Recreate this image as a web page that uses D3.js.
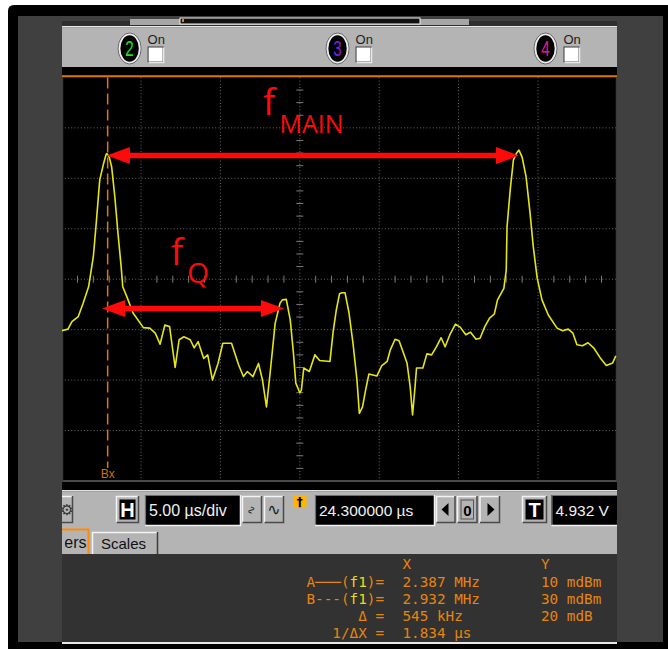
<!DOCTYPE html>
<html>
<head>
<meta charset="utf-8">
<script src="https://cdn.jsdelivr.net/npm/d3@7"></script>
<style>
  body { margin: 0; background: #fff; }
  svg { display: block; }
</style>
</head>
<body>
<svg id="scope" width="668" height="650"></svg>
<script>
// ---------- trace data (graticule divisions: x 0..7 from left, y -4..4 around centre) ----------
const traceX = [0.00,0.08,0.13,0.21,0.27,0.34,0.40,0.44,0.48,0.53,
  0.56,0.57,0.60,0.63,0.67,0.71,0.75,0.77,0.82,0.90,
  1.03,1.11,1.18,1.24,1.30,1.36,1.43,1.48,1.54,1.62,
  1.67,1.72,1.79,1.84,1.90,1.97,2.03,2.14,2.23,2.29,
  2.34,2.41,2.48,2.53,2.58,2.63,2.69,2.75,2.78,2.83,
  2.88,2.92,2.95,3.00,3.02,3.05,3.12,3.19,3.25,3.38,
  3.42,3.46,3.50,3.53,3.57,3.62,3.67,3.72,3.75,3.79,
  3.83,3.87,3.97,4.03,4.10,4.14,4.20,4.25,4.30,4.35,
  4.39,4.42,4.45,4.47,4.55,4.60,4.66,4.72,4.78,4.83,
  4.89,4.96,5.02,5.09,5.15,5.22,5.27,5.33,5.39,5.45,
  5.49,5.57,5.60,5.61,5.65,5.69,5.73,5.76,5.80,5.85,
  5.90,5.94,5.99,6.05,6.13,6.24,6.31,6.38,6.44,6.49,
  6.56,6.63,6.70,6.78,6.86,6.94,6.98];
const traceY = [-1.02,-0.99,-0.84,-0.74,-0.48,-0.15,0.45,1.18,1.97,2.30,
  2.47,2.49,2.42,2.23,1.64,0.91,0.25,-0.15,-0.34,-0.67,
  -0.96,-0.97,-1.07,-1.29,-0.91,-0.94,-1.75,-1.20,-1.14,-1.20,
  -1.36,-1.24,-1.57,-1.50,-2.00,-1.67,-1.27,-1.27,-1.70,-1.93,
  -1.83,-1.93,-1.67,-2.00,-2.53,-1.80,-0.87,-0.48,-0.41,-0.40,
  -0.81,-1.47,-2.06,-2.25,-2.20,-1.76,-1.83,-1.50,-1.61,-1.63,
  -1.04,-0.61,-0.29,-0.27,-0.27,-0.67,-1.27,-2.00,-2.66,-2.53,
  -2.19,-1.88,-1.92,-1.72,-1.63,-1.40,-1.19,-1.22,-1.44,-1.66,
  -2.13,-2.69,-2.16,-1.76,-1.76,-1.48,-1.50,-1.34,-1.16,-1.34,
  -1.10,-0.89,-0.95,-1.10,-1.05,-1.19,-1.17,-0.94,-0.77,-0.69,
  -0.41,-0.18,0.18,1.04,1.77,2.36,2.50,2.56,2.42,2.03,
  1.31,0.65,0.02,-0.41,-0.71,-0.97,-1.02,-0.99,-1.07,-1.30,
  -1.32,-1.26,-1.36,-1.55,-1.71,-1.66,-1.52];

// graticule
const gridX = [1, 2, 3, 4, 5, 6];
const gridY = [-3, -2, -1, 0, 1, 2, 3];

// marker cursor and annotated spans (divisions)
const cursorBx = 0.58;
const spanMain = [0.57, 5.76];
const levelMain = 2.45;
const spanQ = [0.51, 2.80];
const levelQ = -0.58;

// channel buttons
const channels = ["2", "3", "4"];

// control bar texts
const timebase = "5.00 µs/div";
const delay = "24.300000 µs";
const trigLevel = "4.932 V";
const tabNames = ["Markers", "Scales"];

// marker readout
const readoutLabels = ["A───(f1)=", "B---(f1)=", "Δ =", "1/ΔX ="];
const readoutX = ["2.387 MHz", "2.932 MHz", "545 kHz", "1.834 µs"];
const readoutY = ["10 mdBm", "30 mdBm", "20 mdB", ""];

// ---------- styling ----------
const chanColor = { "2": "#19e619", "3": "#8a1be6", "4": "#f0148c" };
const orange = "#e6850e";
const panelGray = "#b4b4b4";
const red = "#ff0a0a";

const svg = d3.select("#scope");
const defs = svg.append("defs");

// scales for the screen area
const x = d3.scaleLinear().domain([0, 7]).range([61.6, 617.4]);
const y = d3.scaleLinear().domain([-4, 4]).range([481, 77.4]);

// ---------- outer bezel ----------
svg.append("path")
  .attr("d", "M8,649 V11 Q8,5 14,5 H668 V649 Z")
  .attr("fill", "#000");
svg.append("rect").attr("x", 18).attr("y", 16).attr("width", 645).attr("height", 626).attr("fill", "#404040");

// clip for the application window
defs.append("clipPath").attr("id", "win")
  .append("rect").attr("x", 62).attr("y", 16).attr("width", 555).attr("height", 630);
defs.append("clipPath").attr("id", "tabclip")
  .append("rect").attr("x", 64.5).attr("y", 528).attr("width", 26).attr("height", 26);
const app = svg.append("g").attr("clip-path", "url(#win)");

// ---------- top strip and channel bar ----------
app.append("rect").attr("x", 62).attr("y", 21).attr("width", 555).attr("height", 5).attr("fill", "#2e2e2e");
app.append("rect").attr("x", 130).attr("y", 19).attr("width", 339).attr("height", 6).attr("fill", "#a6a6a6");
app.append("rect").attr("x", 180).attr("y", 18).attr("width", 240).attr("height", 6)
  .attr("fill", "#111").attr("stroke", "#f2f2f2").attr("stroke-width", 1);
app.append("rect").attr("x", 182).attr("y", 19).attr("width", 2).attr("height", 3).attr("fill", orange);
app.append("rect").attr("x", 62).attr("y", 26).attr("width", 555).attr("height", 1.5).attr("fill", "#e8e8e8");
app.append("rect").attr("x", 62).attr("y", 27.5).attr("width", 555).attr("height", 39.5).attr("fill", panelGray);

const badgeX = d3.scalePoint().domain(channels).range([129.6, 545.5]);
const badge = app.selectAll("g.badge").data(channels).join("g")
  .attr("class", "badge")
  .attr("transform", d => `translate(${badgeX(d)},48.5)`);
badge.append("ellipse").attr("rx", 11.5).attr("ry", 15.5).attr("fill", "none").attr("stroke", "#6a6a6a").attr("stroke-width", 1);
badge.append("ellipse").attr("rx", 10).attr("ry", 14).attr("fill", "#000").attr("stroke", "#eeeeee").attr("stroke-width", 1.6);
badge.append("text")
  .attr("text-anchor", "middle").attr("y", 6.5)
  .attr("transform", "scale(0.8,1.2)")
  .attr("font-family", "Liberation Sans, Arial, sans-serif").attr("font-size", 19)
  .attr("fill", d => chanColor[d]).text(d => d);
badge.append("text")
  .attr("x", 18).attr("y", -5)
  .attr("font-family", "Liberation Sans, Arial, sans-serif").attr("font-size", 13)
  .attr("fill", "#1e1e1e").text("On");
badge.append("rect").attr("x", 18.5).attr("y", -1.5).attr("width", 15).attr("height", 15)
  .attr("fill", "#fff").attr("stroke", "#3c3c3c").attr("stroke-width", 1);
badge.append("path").attr("d", "M19,14 H34 V-1").attr("fill", "none").attr("stroke", "#e8e8e8").attr("stroke-width", 1.5);

// ---------- screen ----------
app.append("rect").attr("x", 62).attr("y", 67).attr("width", 555).attr("height", 424).attr("fill", "#000");

const grid = app.append("g");
grid.selectAll("line.gx").data(gridX).join("line")
  .attr("x1", d => x(d)).attr("x2", d => x(d)).attr("y1", y(4)).attr("y2", y(-4))
  .attr("stroke", "#6a6a6a").attr("stroke-width", 1).attr("stroke-dasharray", "1,2.2");
grid.selectAll("line.gy").data(gridY).join("line")
  .attr("x1", x(0)).attr("x2", x(7)).attr("y1", d => y(d)).attr("y2", d => y(d))
  .attr("stroke", "#6a6a6a").attr("stroke-width", 1).attr("stroke-dasharray", "1,2.2");
// minor ticks on centre axes
grid.selectAll("line.ty").data(d3.range(-4, 4.001, 0.25).filter(v => Math.abs(v % 1) > 1e-6)).join("line")
  .attr("x1", x(3) - 3.5).attr("x2", x(3) + 3.5).attr("y1", d => y(d)).attr("y2", d => y(d))
  .attr("stroke", "#7c7c7c").attr("stroke-width", 1);
grid.selectAll("line.tx").data(d3.range(0, 7.001, 0.2).filter(v => Math.abs(v - Math.round(v)) > 1e-6)).join("line")
  .attr("x1", d => x(d)).attr("x2", d => x(d)).attr("y1", y(0) - 3.5).attr("y2", y(0) + 3.5)
  .attr("stroke", "#7c7c7c").attr("stroke-width", 1);

// screen borders
app.append("line").attr("x1", 62).attr("x2", 617).attr("y1", 76.2).attr("y2", 76.2).attr("stroke", "#e07800").attr("stroke-width", 2);
app.append("line").attr("x1", 62).attr("x2", 617).attr("y1", 481).attr("y2", 481).attr("stroke", "#4a4a4a").attr("stroke-width", 2);
app.append("line").attr("x1", 62.5).attr("x2", 62.5).attr("y1", 77).attr("y2", 481).attr("stroke", "#3a3a3a").attr("stroke-width", 1.5);
app.append("line").attr("x1", 616.5).attr("x2", 616.5).attr("y1", 77).attr("y2", 481).attr("stroke", "#3a3a3a").attr("stroke-width", 1.5);

// Bx marker cursor
app.append("line")
  .attr("x1", x(cursorBx)).attr("x2", x(cursorBx)).attr("y1", 77.5).attr("y2", 468)
  .attr("stroke", "#e07800").attr("stroke-width", 1.5).attr("stroke-dasharray", "11,5");
app.append("text").attr("x", x(cursorBx)).attr("y", 478).attr("text-anchor", "middle")
  .attr("font-family", "Liberation Sans, Arial, sans-serif").attr("font-size", 12)
  .attr("fill", "#d27000").text("Bx");

// trace
const pts = traceX.map((v, i) => [v, traceY[i]]);
app.append("path")
  .datum(pts)
  .attr("d", d3.line().x(d => x(d[0])).y(d => y(d[1])))
  .attr("fill", "none").attr("stroke", "#e6e614").attr("stroke-width", 1.6).attr("stroke-linejoin", "round");

// ---------- annotations ----------
function doubleArrow(span, level) {
  const x1 = x(span[0]), x2 = x(span[1]), yy = y(level);
  const head = 23, half = 8.5;
  const g = app.append("g").attr("fill", red);
  g.append("line").attr("x1", x1 + head - 2).attr("x2", x2 - head + 2).attr("y1", yy).attr("y2", yy)
    .attr("stroke", red).attr("stroke-width", 5.5);
  g.append("path").attr("d", `M${x1},${yy} L${x1 + head},${yy - half} L${x1 + head},${yy + half} Z`);
  g.append("path").attr("d", `M${x2},${yy} L${x2 - head},${yy - half} L${x2 - head},${yy + half} Z`);
}
doubleArrow(spanMain, levelMain);
doubleArrow(spanQ, levelQ);

function fLabel(px, py, sub, subSize) {
  const t = app.append("text").attr("x", px).attr("y", py)
    .attr("font-family", "Open Sans, Noto Sans, sans-serif").attr("fill", red);
  t.append("tspan").attr("font-size", 37).text("f");
  t.append("tspan").attr("font-size", subSize).attr("dx", 4).attr("dy", 18).text(sub);
}
fLabel(x(2.55) - 1, y(3.26), "MAIN", 25);
fLabel(x(1.40) - 2, y(0.28), "Q", 28);

// ---------- control bar ----------
const ctl = app.append("g");
ctl.append("rect").attr("x", 62).attr("y", 490).attr("width", 555).attr("height", 1.5).attr("fill", "#e0e0e0");
ctl.append("rect").attr("x", 62).attr("y", 491.5).attr("width", 555).attr("height", 62.5).attr("fill", panelGray);

function raised(px, py, w, h, fill) {
  ctl.append("rect").attr("x", px).attr("y", py).attr("width", w).attr("height", h).attr("fill", fill || panelGray);
  ctl.append("path").attr("d", `M${px + 0.5},${py + h} V${py + 0.5} H${px + w}`).attr("fill", "none").attr("stroke", "#f4f4f4").attr("stroke-width", 1.5);
  ctl.append("path").attr("d", `M${px + 0.5},${py + h - 0.5} H${px + w - 0.5} V${py}`).attr("fill", "none").attr("stroke", "#4a4a4a").attr("stroke-width", 1.5);
}
function field(px, py, w, h, str, fs) {
  ctl.append("rect").attr("x", px).attr("y", py).attr("width", w).attr("height", h).attr("fill", "#000");
  ctl.append("path").attr("d", `M${px + 0.5},${py + h} V${py + 0.5} H${px + w}`).attr("fill", "none").attr("stroke", "#6e6e6e").attr("stroke-width", 1.2);
  ctl.append("path").attr("d", `M${px},${py + h + 0.5} H${px + w + 0.5} V${py}`).attr("fill", "none").attr("stroke", "#f2f2f2").attr("stroke-width", 1.5);
  ctl.append("text").attr("x", px + 4).attr("y", py + h / 2 + 5.5)
    .attr("font-family", "Liberation Sans, Arial, sans-serif").attr("font-size", fs)
    .attr("fill", "#f0f0f0").text(str);
}
function letterButton(px, py, w, h, ch) {
  raised(px, py, w, h);
  ctl.append("rect").attr("x", px + 3.5).attr("y", py + 3.5).attr("width", w - 7).attr("height", h - 7).attr("fill", "#000");
  ctl.append("text").attr("x", px + w / 2).attr("y", py + h / 2 + 7).attr("text-anchor", "middle")
    .attr("font-family", "Liberation Sans, Arial, sans-serif").attr("font-weight", "bold").attr("font-size", 20)
    .attr("fill", "#fff").text(ch);
}

// partially visible utility button
raised(52, 496, 21, 27);
ctl.append("text").attr("x", 67).attr("y", 515).attr("text-anchor", "middle")
  .attr("font-family", "DejaVu Sans, sans-serif").attr("font-size", 15).attr("fill", "#333").text("⚙");

letterButton(116, 496, 23, 27, "H");
field(145, 495, 95, 30, timebase, 16);
raised(242, 496, 20, 27);
raised(264, 496, 20, 27);
ctl.append("text").attr("transform", "translate(252,510) rotate(90)").attr("text-anchor", "middle").attr("dy", 4)
  .attr("font-family", "DejaVu Sans, sans-serif").attr("font-size", 11).attr("fill", "#222").text("∿");
ctl.append("text").attr("x", 274).attr("y", 515).attr("text-anchor", "middle")
  .attr("font-family", "DejaVu Sans, sans-serif").attr("font-size", 16).attr("fill", "#222").text("∿");

// trigger marker
ctl.append("rect").attr("x", 293).attr("y", 495).attr("width", 13.5).attr("height", 12).attr("fill", "#ffb400");
ctl.append("text").attr("x", 299.8).attr("y", 505.5).attr("text-anchor", "middle")
  .attr("font-family", "DejaVu Sans, sans-serif").attr("font-weight", "bold").attr("font-size", 12).attr("fill", "#000").text("†");

field(315, 495, 119, 30, delay, 15.5);
raised(436, 496, 19.5, 27);
raised(457, 496, 20.5, 27);
raised(479.5, 496, 20.5, 27);
ctl.append("path").attr("d", "M441.5,509.5 L448.5,503 V516 Z").attr("fill", "#000");
ctl.append("path").attr("d", "M494.5,509.5 L487.5,503 V516 Z").attr("fill", "#000");
ctl.append("rect").attr("x", 461).attr("y", 500).attr("width", 12.5).attr("height", 19).attr("fill", "none").attr("stroke", "#555").attr("stroke-width", 1);
ctl.append("text").attr("x", 467.3).attr("y", 515.5).attr("text-anchor", "middle")
  .attr("font-family", "Liberation Sans, Arial, sans-serif").attr("font-weight", "bold").attr("font-size", 15).attr("fill", "#000").text("0");

letterButton(522, 496, 25, 27, "T");
field(551.5, 495, 70, 30, trigLevel, 15.5);

// tabs (the selected "Markers" tab is scrolled mostly out of view)
ctl.append("rect").attr("x", 58).attr("y", 529).attr("width", 31).attr("height", 25).attr("fill", panelGray);
ctl.append("path").attr("d", "M58,529.5 H88.5 V554").attr("fill", "none").attr("stroke", "#ff8a00").attr("stroke-width", 2);
ctl.append("text").attr("x", 86.5).attr("y", 548).attr("text-anchor", "end").attr("clip-path", "url(#tabclip)")
  .attr("font-family", "Liberation Sans, Arial, sans-serif").attr("font-size", 16).attr("fill", "#111").text(tabNames[0]);
ctl.append("rect").attr("x", 92).attr("y", 532).attr("width", 66).attr("height", 22).attr("fill", panelGray);
ctl.append("path").attr("d", "M92.5,554 V532.5 H157").attr("fill", "none").attr("stroke", "#f4f4f4").attr("stroke-width", 1.5);
ctl.append("path").attr("d", "M157.5,532 V554").attr("fill", "none").attr("stroke", "#3c3c3c").attr("stroke-width", 1.5);
ctl.append("text").attr("x", 101).attr("y", 549).attr("font-family", "Liberation Sans, Arial, sans-serif")
  .attr("font-size", 15).attr("fill", "#111").text(tabNames[1]);

// ---------- marker readout ----------
const rd = app.append("g");
rd.append("rect").attr("x", 62).attr("y", 554).attr("width", 555).attr("height", 88).attr("fill", "#323232");
rd.append("rect").attr("x", 62).attr("y", 642).attr("width", 555).attr("height", 2).attr("fill", "#e6e6e6");

function mono(px, py, anchor) {
  return rd.append("text").attr("x", px).attr("y", py)
    .attr("text-anchor", anchor).attr("font-family", "DejaVu Sans Mono, monospace")
    .attr("font-size", 14.3).attr("fill", orange);
}
const rowY = [587, 604, 621, 638];
mono(402.5, 569, "start").text("X");
mono(541, 569, "start").text("Y");
readoutLabels.forEach((lab, i) => {
  const t = mono(384, rowY[i], "end");
  const m = lab.match(/^(.*\()f1(\).*)$/);
  if (m) {
    t.append("tspan").text(m[1]);
    t.append("tspan").attr("fill", "#e8dc10").text("f1");
    t.append("tspan").text(m[2]);
  } else {
    t.text(lab);
  }
  mono(402.5, rowY[i], "start").text(readoutX[i]);
  if (readoutY[i]) mono(541, rowY[i], "start").text(readoutY[i]);
});
</script>
</body>
</html>
